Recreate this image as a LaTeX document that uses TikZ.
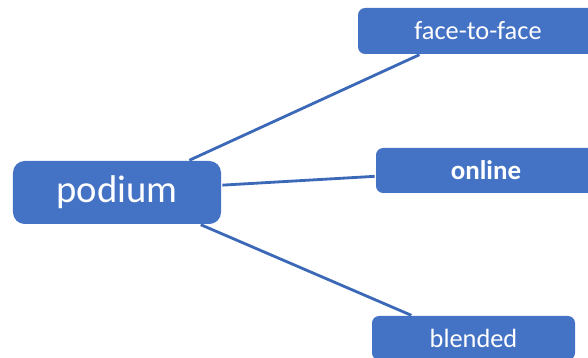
\documentclass[tikz,border=0pt]{standalone}
\usepackage{fontspec}
\setmainfont{Carlito}
\usepackage{xcolor}
\usetikzlibrary{positioning}
\definecolor{mapBlue}{RGB}{68,114,196}
\definecolor{lineBlue}{RGB}{60,104,184}
\tikzset{
    podbox/.style={
        rectangle,
        fill=mapBlue,
        rounded corners=10pt,
        align=center,
        inner sep=0pt,
        minimum width=6.24cm,
        minimum height=1.89cm,
        text=white,
        font=\fontsize{33}{38}\selectfont
    },
    leafbox/.style={
        rectangle,
        fill=mapBlue,
        rounded corners=6pt,
        align=center,
        inner sep=0pt,
        minimum height=1.35cm,
        text=white,
        font=\fontsize{22.5}{26}\selectfont
    },
    spoke/.style={draw=lineBlue, line width=2.4pt, shorten <=1pt, shorten >=1pt}
}
\begin{document}
\begin{tikzpicture}
        \useasboundingbox (0,0) rectangle (17.64,10.74);
        \clip (0,0) rectangle (17.64,10.74);
        \node[podbox] (podium) at (3.51,4.965) {podium};
        \node[leafbox, minimum width=7.2cm, minimum height=1.38cm] (ftf) at (14.34,9.81) {face-to-face};
        \node[leafbox, minimum width=6.6cm, font=\fontsize{23}{26}\selectfont\bfseries] (online) at (14.58,5.625) {online};
        \node[leafbox, minimum width=6.09cm, minimum height=1.32cm] (blended) at (14.205,0.6) {blended};

        \draw[spoke] (podium.24) -- (ftf.202.7);
        \draw[spoke] (podium.4.1) -- (online.183.4);
        \draw[spoke] (podium.339.2) -- (blended.160.1);
    \end{tikzpicture}
\end{document}
